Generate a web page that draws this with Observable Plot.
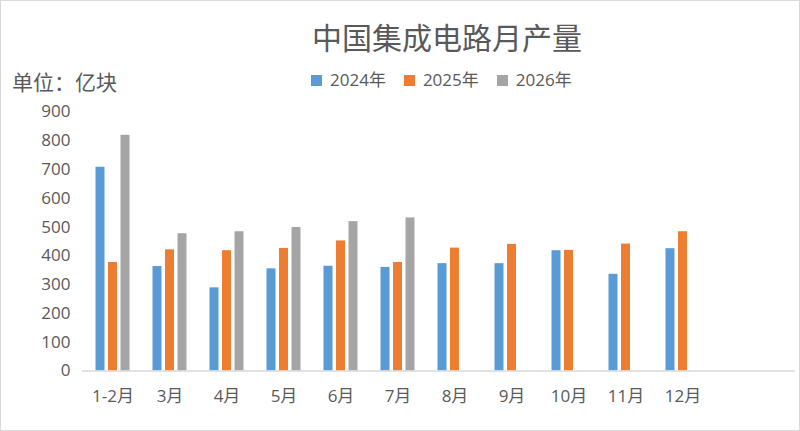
<!DOCTYPE html>
<html>
<head>
<meta charset="utf-8">
<script src="https://cdn.jsdelivr.net/npm/d3@7"></script>
<script src="https://cdn.jsdelivr.net/npm/@observablehq/plot@0.6"></script>
<style>
  body { margin: 0; background: #fff; }
  #wrap { position: relative; width: 800px; height: 431px; overflow: hidden; background: #fff;
          font-family: "Open Sans", "Noto Sans CJK SC", sans-serif; color: #595959; }
  #frame { position: absolute; left: 0; top: 0; width: 800px; height: 431px; box-sizing: border-box;
           border: 1px solid #d9d9d9; pointer-events: none; }
  #title { position: absolute; left: 312px; top: 21px; font-size: 30px; line-height: 30px;
           font-family: "Noto Sans CJK SC", sans-serif; color: #595959; white-space: nowrap; }
  #unit { position: absolute; left: 12px; top: 70px; font-size: 21px; line-height: 22px;
          font-family: "Noto Sans CJK SC", sans-serif; color: #595959; }
  #legend { position: absolute; left: 311px; top: 69px; display: flex; align-items: center;
            font-size: 17px; line-height: 22px; color: #595959; }
  .item { display: flex; align-items: center; margin-right: 18px; }
  .sw { width: 11px; height: 11px; margin-right: 8px; }
  #plot { position: absolute; left: 0; top: 0; }
</style>
</head>
<body>
<div id="wrap">
  <div id="plot"></div>
  <div id="title"></div>
  <div id="unit"></div>
  <div id="legend"></div>
  <div id="frame"></div>
</div>
<script>
const titleText = "中国集成电路月产量";
const unitText = "单位：亿块";
const months = ["1-2月", "3月", "4月", "5月", "6月", "7月", "8月", "9月", "10月", "11月", "12月"];
const series = ["2024年", "2025年", "2026年"];
const colors = ["#5B9BD5", "#ED7D31", "#A5A5A5"];
const v2024 = [708, 363, 289, 355, 364, 360, 373, 373, 418, 336, 425];
const v2025 = [377, 421, 418, 426, 452, 377, 427, 440, 419, 441, 484];
const v2026 = [819, 477, 484, 499, 519, 532, null, null, null, null, null];
const yTicks = [0, 100, 200, 300, 400, 500, 600, 700, 800, 900];

const values = [v2024, v2025, v2026];
const xDomain = [...months, ""];
const offsets = [-12.5, 0, 12.5];

document.getElementById("title").textContent = titleText;
document.getElementById("unit").textContent = unitText;
const legend = document.getElementById("legend");
series.forEach((s, i) => {
  const it = document.createElement("div");
  it.className = "item";
  const sw = document.createElement("div");
  sw.className = "sw";
  sw.style.background = colors[i];
  const tx = document.createElement("span");
  tx.textContent = s;
  it.appendChild(sw); it.appendChild(tx);
  legend.appendChild(it);
});

const barMarks = values.map((arr, i) => {
  const data = months.map((m, j) => ({month: m, v: arr[j]})).filter(d => d.v != null);
  return Plot.barY(data, {x: "month", y: "v", fill: colors[i], dx: offsets[i]});
});

const chart = Plot.plot({
  width: 800,
  height: 431,
  marginTop: 111.5,
  marginBottom: 60.5,
  marginLeft: 82,
  marginRight: 5,
  style: {fontFamily: "'Open Sans', 'Noto Sans CJK SC', sans-serif", background: "transparent"},
  x: {domain: xDomain, range: [82, 771.3], paddingInner: 0.835, paddingOuter: 0.4175, label: null},
  y: {domain: [0, 900], label: null},
  marks: [
    ...barMarks,
    Plot.ruleY([0], {stroke: "#d9d9d9", strokeWidth: 1.5}),
    Plot.axisY({ticks: yTicks, tickSize: 0, tickPadding: 12, fontSize: 17, fill: "#595959", label: null}),
    Plot.axisX({tickSize: 0, tickPadding: 19, fontSize: 17, fill: "#595959", label: null,
                fontFamily: "'Open Sans', 'Noto Sans CJK SC', sans-serif"})
  ]
});
document.getElementById("plot").appendChild(chart);
</script>
</body>
</html>
